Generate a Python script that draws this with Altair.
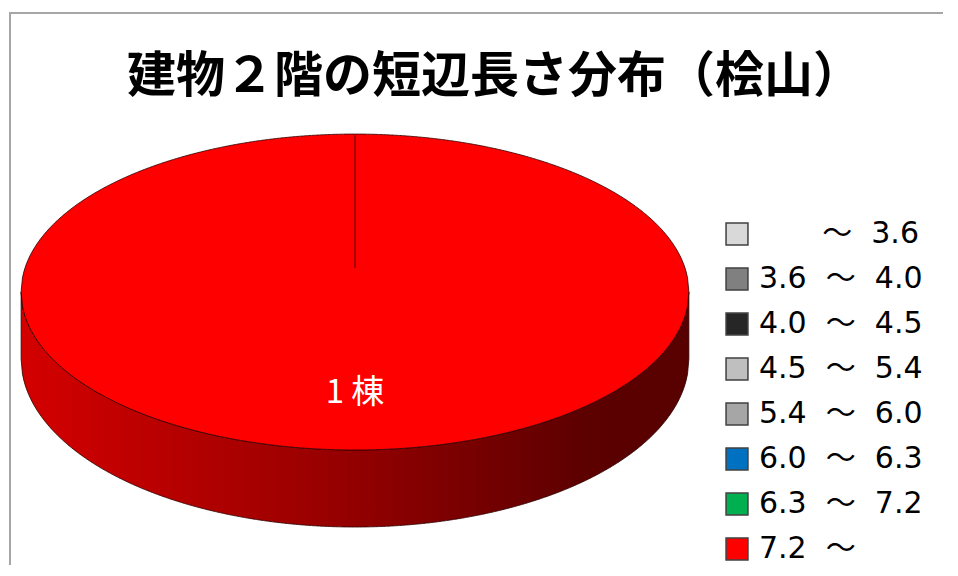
import altair as alt
import numpy as np
import pandas as pd

# ---- data ----
title_text = "建物２階の短辺長さ分布（桧山）"
NB = "\u00a0"
lower = ["", "3.6", "4.0", "4.5", "5.4", "6.0", "6.3", "7.2"]
upper = ["3.6", "4.0", "4.5", "5.4", "6.0", "6.3", "7.2", ""]
counts = [0, 0, 0, 0, 0, 0, 0, 1]
colors = ["#D9D9D9", "#808080", "#262626", "#BFBFBF",
          "#A6A6A6", "#0070C0", "#00B050", "#FF0000"]
unit = "棟"

classes = []
for lo, hi in zip(lower, upper):
    left = lo if lo else "\u200b" + NB * 4 + "\u2009"
    classes.append(left + NB * 2 + "～" + (NB * 2 + hi if hi else ""))

# ---- 3D pie projection (style constants) ----
K = 0.152      # perspective strength
C = 0.4676     # vertical squash of the disk
DEPTH = 0.198  # thickness of the pie
LABEL_R = 0.72


def proj(theta, r=1.0, drop=0.0):
    u = r * np.sin(theta)
    v = r * np.cos(theta)
    w = 1 + K * v
    return u / w, (C * v - drop) / w


total = sum(counts)
starts = np.cumsum([0] + counts[:-1]) / total * 2 * np.pi
ends = np.cumsum(counts) / total * 2 * np.pi
nz = [i for i, c in enumerate(counts) if c > 0]

t_edge = np.arccos(-K)
xmax = 1 / np.sqrt(1 - K * K)
xs = np.linspace(-xmax, xmax, 500)

th_far = np.linspace(-t_edge, t_edge, 800)
xf, yf = proj(th_far)
th_near = np.linspace(2 * np.pi - t_edge, t_edge, 800)
xn, yn = proj(th_near)
_, ynb = proj(th_near, drop=DEPTH)

y_far = np.interp(xs, xf, yf)
y_near = np.interp(xs, xn, yn)
y_near_bot = np.interp(xs, xn, ynb)

# top face (single slice covering the full disk)
main = nz[0]
top_df = pd.DataFrame({"x": xs, "y": y_far, "y2": y_near, "cls": classes[main]})
side_df = pd.DataFrame({"x": xs, "y": y_near, "y2": y_near_bot})

# slice boundaries
bx, by = proj(starts[nz])
rule_df = pd.DataFrame({"x": 0.0, "y": 0.0, "x2": bx, "y2": by})

# labels
mid = (starts[nz] + ends[nz]) / 2
lx, ly = proj(mid, r=LABEL_R)
label_df = pd.DataFrame({"x": lx, "y": ly,
                         "t": [f"{counts[i]} {unit}" for i in nz]})

# ---- scales ----
CX, CY, R = 347, 260, 330
xscale = alt.Scale(domain=[-1, 1], range=[CX - R, CX + R])
yscale = alt.Scale(domain=[-1, 1], range=[CY + R, CY - R])

frame = alt.Chart(pd.DataFrame({"a": [0]})).mark_rect(
    fill="white", stroke="#a6a6a6", strokeWidth=2
).encode(x=alt.value(2), y=alt.value(5), x2=alt.value(1400), y2=alt.value(1400))

side = alt.Chart(side_df).mark_area(
    fill=alt.Gradient(
        gradient="linear",
        stops=[alt.GradientStop(color="#d40000", offset=0),
               alt.GradientStop(color="#930000", offset=0.5),
               alt.GradientStop(color="#5c0000", offset=0.85),
               alt.GradientStop(color="#580000", offset=1)],
        x1=0, x2=1, y1=0, y2=0),
    stroke="#2a0000", strokeWidth=1, strokeOpacity=0.8
).encode(
    x=alt.X("x:Q", scale=xscale, axis=None),
    y=alt.Y("y:Q", scale=yscale, axis=None),
    y2="y2:Q",
)

top = alt.Chart(top_df).mark_area(
    stroke="#2a0000", strokeWidth=1, strokeOpacity=0.8, opacity=1
).encode(
    x=alt.X("x:Q", scale=xscale, axis=None),
    y=alt.Y("y:Q", scale=yscale, axis=None),
    y2="y2:Q",
    color=alt.Color("cls:N", scale=alt.Scale(domain=classes, range=colors),
                    legend=alt.Legend(
                        title=None, orient="none", legendX=714, legendY=211,
                        symbolType="square", symbolSize=480,
                        symbolStrokeColor="#404040", symbolStrokeWidth=1.5,
                        symbolOpacity=1,
                        labelFont="DejaVu Sans, Noto Sans CJK JP", labelFontSize=30,
                        labelColor="#000000", labelOffset=7, labelLimit=0,
                        rowPadding=15, padding=0)),
)

rules = alt.Chart(rule_df).mark_rule(color="#a80000", strokeWidth=2).encode(
    x=alt.X("x:Q", scale=xscale, axis=None),
    y=alt.Y("y:Q", scale=yscale, axis=None),
    x2="x2:Q", y2="y2:Q",
)

labels = alt.Chart(label_df).mark_text(
    color="white", fontSize=33, font="Noto Sans CJK JP", baseline="middle", align="center"
).encode(
    x=alt.X("x:Q", scale=xscale, axis=None),
    y=alt.Y("y:Q", scale=yscale, axis=None),
    text="t:N",
)

chart = alt.layer(frame, side, top, rules, labels).properties(
    width=935, height=557,
    title=alt.Title(title_text, fontSize=49, font="Noto Sans CJK JP",
                    fontWeight="bold", color="#000000", anchor="middle",
                    frame="group", baseline="middle", offset=0, dx=19, dy=118),
    autosize=alt.AutoSizeParams(type="none"),
    padding=0,
).configure_view(stroke=None)

chart.save("out.html", embed_options={"renderer": "svg", "actions": False})
